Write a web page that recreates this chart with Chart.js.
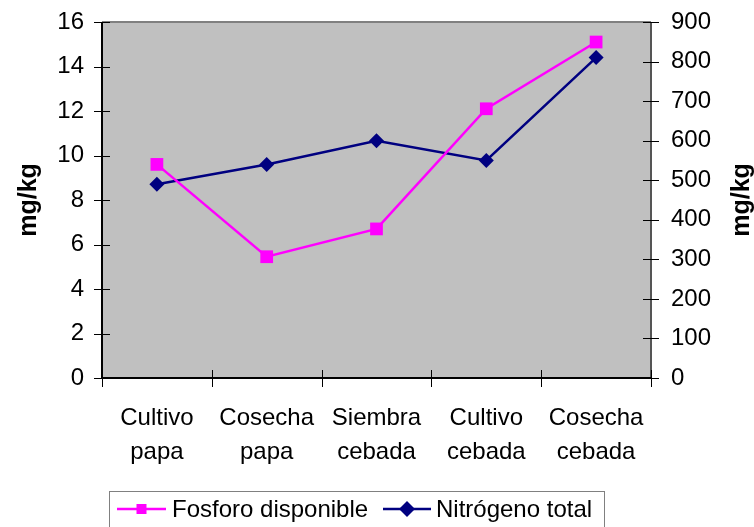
<!DOCTYPE html>
<html>
<head>
<meta charset="utf-8">
<script src="https://cdn.jsdelivr.net/npm/chart.js@4/dist/chart.umd.min.js"></script>
<style>
  html, body { margin: 0; padding: 0; background: #fff; }
  #wrap { width: 754px; height: 527px; }
</style>
</head>
<body>
<div id="wrap"><canvas id="c" width="754" height="527"></canvas></div>
<script>
// Sampling stages along the potato / barley rotation
const categories = [
  ["Cultivo", "papa"],
  ["Cosecha", "papa"],
  ["Siembra", "cebada"],
  ["Cultivo", "cebada"],
  ["Cosecha", "cebada"]
];
// Available phosphorus (left axis, mg/kg)
const fosforo = [9.6, 5.45, 6.7, 12.1, 15.1];
// Total nitrogen (right axis, mg/kg)
const nitrogeno = [490, 540, 600, 550, 810];
const leftTicks = { min: 0, max: 16, step: 2 };
const rightTicks = { min: 0, max: 900, step: 100 };
const seriesNames = ["Fosforo disponible", "Nitrógeno total"];

const FONT = "'Liberation Sans', Arial, sans-serif";

// Plot background, frame, tick marks, axis titles and legend
const decor = {
  id: 'decor',
  beforeDatasetsDraw(chart) {
    const { ctx, chartArea: a } = chart;
    ctx.save();
    ctx.fillStyle = '#c0c0c0';
    ctx.fillRect(a.left, a.top, a.right - a.left, a.bottom - a.top);
    // top frame
    ctx.strokeStyle = '#808080';
    ctx.lineWidth = 2;
    ctx.beginPath();
    ctx.moveTo(a.left, a.top);
    ctx.lineTo(a.right, a.top);
    ctx.stroke();
    // right axis line
    ctx.strokeStyle = '#555';
    ctx.beginPath();
    ctx.moveTo(a.right, a.top);
    ctx.lineTo(a.right, a.bottom);
    ctx.stroke();
    // left and bottom axis lines
    ctx.strokeStyle = '#000';
    ctx.beginPath();
    ctx.moveTo(a.left, a.top);
    ctx.lineTo(a.left, a.bottom);
    ctx.lineTo(a.right, a.bottom);
    ctx.stroke();

    // tick marks crossing the axis lines
    ctx.strokeStyle = '#000';
    ctx.lineWidth = 1;
    const sy = chart.scales.y, sy1 = chart.scales.y1;
    sy.ticks.forEach((t, i) => {
      const p = Math.round(sy.getPixelForTick(i)) + 0.5;
      ctx.beginPath(); ctx.moveTo(a.left - 8, p); ctx.lineTo(a.left + 8, p); ctx.stroke();
    });
    sy1.ticks.forEach((t, i) => {
      const p = Math.round(sy1.getPixelForTick(i)) + 0.5;
      ctx.beginPath(); ctx.moveTo(a.right - 8, p); ctx.lineTo(a.right + 8, p); ctx.stroke();
    });
    const n = categories.length;
    const w = (a.right - a.left) / n;
    for (let i = 0; i <= n; i++) {
      const p = Math.round(a.left + i * w) + 0.5;
      ctx.beginPath(); ctx.moveTo(p, a.bottom - 8); ctx.lineTo(p, a.bottom + 9); ctx.stroke();
    }
    ctx.restore();
  },
  afterDraw(chart) {
    const { ctx, chartArea: a } = chart;
    ctx.save();
    // axis titles, both reading bottom to top
    ctx.fillStyle = '#000';
    ctx.font = 'bold 25px ' + FONT;
    ctx.textAlign = 'center';
    ctx.textBaseline = 'middle';
    const midY = (a.top + a.bottom) / 2;
    [[29, midY], [742, midY]].forEach(([x, y]) => {
      ctx.save();
      ctx.translate(x, y);
      ctx.rotate(-Math.PI / 2);
      ctx.fillText('mg/kg', 0, 0);
      ctx.restore();
    });

    // legend box
    const bx = 109.5, by = 491.5, bw = 495, bh = 40;
    ctx.strokeStyle = '#808080';
    ctx.lineWidth = 1;
    ctx.fillStyle = '#fff';
    ctx.fillRect(bx, by, bw, bh);
    ctx.strokeRect(bx, by, bw, bh);
    const cy = 509;
    const ds = chart.data.datasets;
    const items = [
      { x0: 117, x1: 166, tx: 172 },
      { x0: 383, x1: 431, tx: 436 }
    ];
    ctx.font = '24px ' + FONT;
    ctx.textAlign = 'left';
    items.forEach((it, i) => {
      const d = ds[i];
      ctx.strokeStyle = d.borderColor;
      ctx.lineWidth = 2.5;
      ctx.beginPath(); ctx.moveTo(it.x0, cy); ctx.lineTo(it.x1, cy); ctx.stroke();
      ctx.fillStyle = d.pointBackgroundColor;
      ctx.beginPath();
      const cx = (it.x0 + it.x1) / 2;
      if (d.pointStyle === 'rect') {
        ctx.rect(cx - 5, cy - 5, 10, 10);
      } else {
        ctx.moveTo(cx, cy - 8); ctx.lineTo(cx + 8, cy); ctx.lineTo(cx, cy + 8); ctx.lineTo(cx - 8, cy); ctx.closePath();
      }
      ctx.fill();
      ctx.fillStyle = '#000';
      ctx.textBaseline = 'middle';
      ctx.fillText(d.label, it.tx, cy + 1);
    });
    ctx.restore();
  }
};

// fixed box sizes for the value axes, without extra label padding above/below
function fitValueAxis(width) {
  return function (s) {
    s.width = width;
    s.paddingTop = 0;
    s.paddingBottom = 0;
  };
}

new Chart(document.getElementById('c'), {
  type: 'line',
  data: {
    labels: categories,
    datasets: [
      {
        label: seriesNames[0],
        data: fosforo,
        yAxisID: 'y',
        borderColor: '#ff00ff',
        backgroundColor: '#ff00ff',
        pointBackgroundColor: '#ff00ff',
        pointBorderColor: '#ff00ff',
        borderWidth: 2.5,
        pointStyle: 'rect',
        pointRadius: 9,
        pointBorderWidth: 0,
        tension: 0
      },
      {
        label: seriesNames[1],
        data: nitrogeno,
        yAxisID: 'y1',
        borderColor: '#000080',
        backgroundColor: '#000080',
        pointBackgroundColor: '#000080',
        pointBorderColor: '#000080',
        borderWidth: 2.5,
        pointStyle: 'rectRot',
        pointRadius: 7.5,
        pointBorderWidth: 0,
        tension: 0
      }
    ]
  },
  options: {
    responsive: false,
    animation: false,
    devicePixelRatio: 1,
    layout: { padding: { top: 22, left: 0, right: 0, bottom: 0 } },
    plugins: { legend: { display: false }, tooltip: { enabled: false } },
    scales: {
      x: {
        type: 'category',
        offset: true,
        grid: { display: false },
        border: { display: false },
        ticks: {
          color: '#000',
          font: { family: FONT, size: 24, lineHeight: 1.42 },
          padding: 15,
          maxRotation: 0,
          autoSkip: false
        },
        afterFit(s) { s.height = 149; s.paddingLeft = 0; s.paddingRight = 0; }
      },
      y: {
        position: 'left',
        min: leftTicks.min, max: leftTicks.max,
        grid: { display: false },
        border: { display: false },
        ticks: { stepSize: leftTicks.step, color: '#000', font: { family: FONT, size: 24 }, padding: 10 },
        afterFit: fitValueAxis(102)
      },
      y1: {
        position: 'right',
        min: rightTicks.min, max: rightTicks.max,
        grid: { display: false },
        border: { display: false },
        ticks: { stepSize: rightTicks.step, color: '#000', font: { family: FONT, size: 24 }, padding: 12 },
        afterFit: fitValueAxis(103)
      }
    }
  },
  plugins: [decor]
});
</script>
</body>
</html>
